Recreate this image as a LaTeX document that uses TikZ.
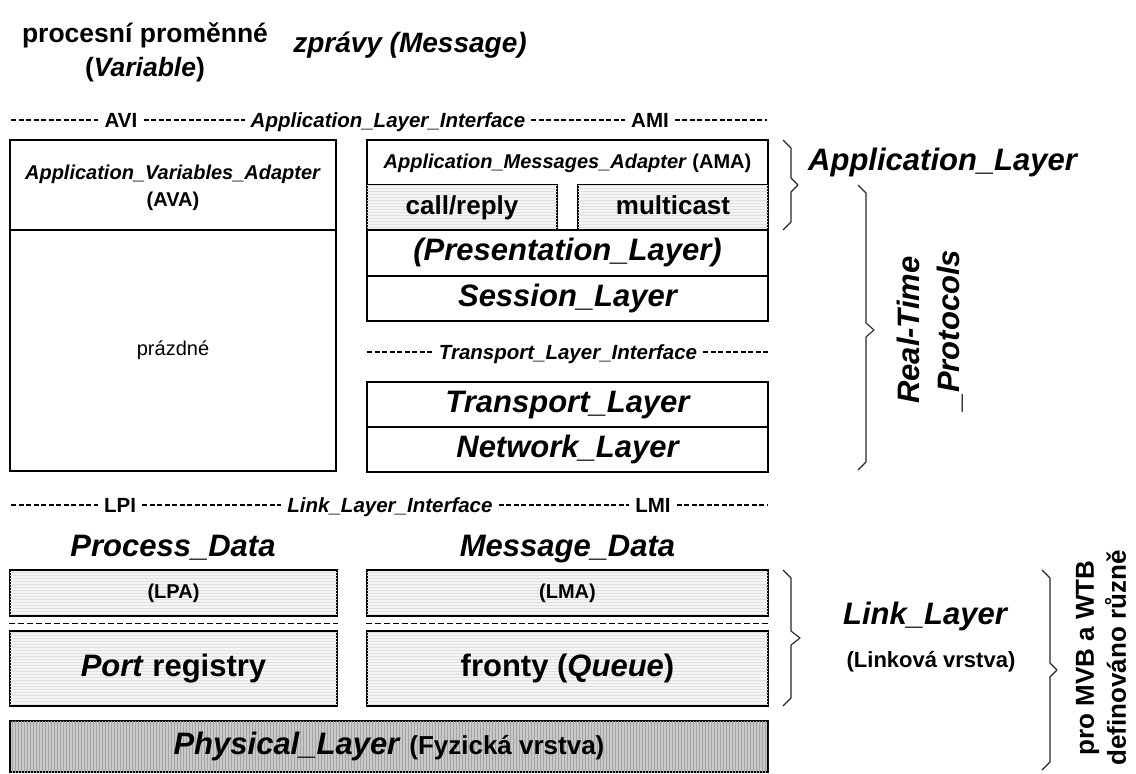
\documentclass[tikz,border=0pt]{standalone}
\usepackage{fontspec}
\setmainfont{Liberation Sans}
\usetikzlibrary{patterns,fit}
\newcommand\setfs[2]{\fontsize{#1}{#2}\selectfont}

\begin{document}
\begin{tikzpicture}[x=1pt,y=-1pt,
  every node/.style={inner sep=0pt,font=\bfseries},
  lay/.style={draw,line width=1.6pt,inner sep=0pt},
  light/.style={fill=black!4,postaction={pattern=horizontal lines,pattern color=black!12}},
  dark/.style={fill=black!21,postaction={pattern=vertical lines,pattern color=black!36}},
  big/.style={font=\setfs{31}{36}\bfseries\itshape,text height=22.4pt,text depth=6.5pt},
  bigup/.style={font=\setfs{31}{36}\bfseries,text height=22.4pt,text depth=6.5pt},
  mid/.style={font=\setfs{26}{30}\bfseries,text height=18.7pt,text depth=5.5pt},
  small/.style={font=\setfs{20}{24}\bfseries,text height=14.4pt,text depth=4.2pt},
  ifx/.style={font=\setfs{20.5}{24}\bfseries,inner xsep=6pt,text height=14.7pt,text depth=0pt},
  ifxi/.style={ifx,font=\setfs{20.5}{24}\bfseries\itshape},
  ifline/.style={line width=1.3pt,dash pattern=on 5pt off 2.5pt},
  sepline/.style={line width=1.3pt,dash pattern=on 6pt off 3pt},
  brace/.style={line width=1.1pt,black!85,line join=round}]
\useasboundingbox (0,0) rectangle (1136,774);

% column headings
\node[font=\setfs{26.5}{34}\bfseries,align=center] (hvar) at (145,52) {procesní proměnné\\(\textit{Variable})};
\node[font=\setfs{28}{34}\bfseries\itshape] (hmsg) at (410,45) {zprávy (Message)};

% application layer interface
\coordinate (ai0) at (11,120);
\coordinate (ai1) at (767,120);
\node[ifx] (avi) at (121,120) {AVI};
\node[ifxi] (ali) at (388,120) {Application\_Layer\_Interface};
\node[ifx] (ami) at (650,120) {AMI};
\draw[ifline] (ai0) -- (avi) (avi) -- (ali) (ali) -- (ami) (ami) -- (ai1);

% variables column
\node[lay,fit={(10,140) (336,230)}] (ava) {};
\node[align=center,font=\setfs{20}{27}\bfseries] (avatxt) at ([yshift=-3pt]ava.center) {\textit{Application\_Variables\_Adapter}\\(AVA)};
\node[lay,fit={(10,230) (336,471)}] (empty) {};
\node[font=\setfs{20}{24}\mdseries] (emptytxt) at (empty.center) {prázdné};

% messages column
\node[lay,fit={(367,140) (768,230)}] (ama) {};
\node[small] (amatxt) at (567.5,163) {\textit{Application\_Messages\_Adapter} (AMA)};
\node[lay,light,fit={(367,185) (557,230)}] (call) {};
\node[mid] (calltxt) at (call.center) {call/reply};
\node[lay,light,fit={(578,185) (768,230)}] (mcast) {};
\node[mid] (mcasttxt) at (mcast.center) {multicast};
\node[lay,fit={(367,230) (768,276)}] (pres) {};
\node[big] (prestxt) at (pres.center) {(Presentation\_Layer)};
\node[lay,fit={(367,276) (768,321)}] (sess) {};
\node[big] (sesstxt) at (sess.center) {Session\_Layer};

% transport layer interface
\coordinate (ti0) at (367,352);
\coordinate (ti1) at (768,352);
\node[ifxi] (tli) at (568,352) {Transport\_Layer\_Interface};
\draw[ifline] (ti0) -- (tli) (tli) -- (ti1);

\node[lay,fit={(367,382) (768,427)}] (trans) {};
\node[big] (transtxt) at (trans.center) {Transport\_Layer};
\node[lay,fit={(367,427) (768,472)}] (net) {};
\node[big] (nettxt) at (net.center) {Network\_Layer};

% link layer interface
\coordinate (li0) at (11,505);
\coordinate (li1) at (767,505);
\node[ifx] (lpi) at (120,505) {LPI};
\node[ifxi] (lli) at (390,505) {Link\_Layer\_Interface};
\node[ifx] (lmi) at (653,505) {LMI};
\draw[ifline] (li0) -- (lpi) (lpi) -- (lli) (lli) -- (lmi) (lmi) -- (li1);

% link layer
\node[big] (pdata) at (173,549) {Process\_Data};
\node[big] (mdata) at (567.5,549) {Message\_Data};
\node[lay,light,fit={(10,570) (337,616)}] (lpa) {};
\node[small] (lpatxt) at (lpa.center) {(LPA)};
\node[lay,light,fit={(367,570) (768,616)}] (lma) {};
\node[small] (lmatxt) at (lma.center) {(LMA)};
\path (lpa.south west) ++(0,7) coordinate (ls0) (lpa.south east) ++(0,7) coordinate (ls1);
\path (lma.south west) ++(0,7) coordinate (ms0) (lma.south east) ++(0,7) coordinate (ms1);
\draw[sepline] (ls0) -- (ls1);
\draw[sepline] (ms0) -- (ms1);
\node[lay,light,fit={(10,631) (337,706)}] (port) {};
\node[bigup] (porttxt) at (port.center) {\textit{Port} registry};
\node[lay,light,fit={(367,631) (768,706)}] (queue) {};
\node[bigup] (queuetxt) at (queue.center) {fronty (\textit{Queue})};

% physical layer
\node[lay,dark,fit={(10,721) (768,772)}] (phys) {};
\node[bigup] (phystxt) at (phys.center) {\textit{Physical\_Layer} {\setfs{26}{30}(Fyzická vrstva)}};

% braces and their labels
\draw[brace] (783,140) -- (791,148) -- (791,178) -- (798,185) -- (791,192) -- (791,222) -- (783,230);
\node[big,anchor=west] (applayer) at (808,163) {Application\_Layer};

\draw[brace] (858,185) -- (866,193) -- (866,323) -- (874,330) -- (866,337) -- (866,462) -- (858,470);
\node[rotate=90,align=center,font=\setfs{31}{40}\bfseries\itshape] (rtp) at (930,330) {Real-Time\\\_Protocols};

\draw[brace] (783,570) -- (791,578) -- (791,631) -- (800,638) -- (791,645) -- (791,698) -- (783,706);
\node[big] (linklayer) at (925,617) {Link\_Layer};
\node[font=\setfs{22}{26}\bfseries] (linkcz) at (931,662) {(Linková vrstva)};

\draw[brace] (1042,570) -- (1050,578) -- (1050,663) -- (1057,670) -- (1050,677) -- (1050,762) -- (1042,770);
\node[rotate=90,align=center,font=\setfs{26}{32}\bfseries] (mvb) at (1101,658) {pro MVB a WTB\\definováno různě};
\end{tikzpicture}
\end{document}
